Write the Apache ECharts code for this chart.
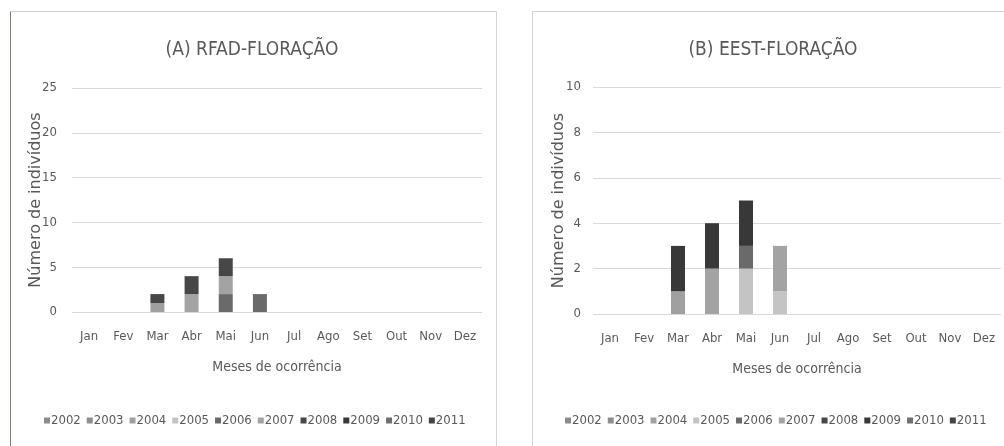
<!DOCTYPE html>
<html>
<head>
<meta charset="utf-8">
<script src="https://cdn.jsdelivr.net/npm/echarts@6/dist/echarts.min.js"></script>
<style>html,body{margin:0;padding:0;background:#fff}#c{width:1004px;height:446px}</style>
</head>
<body>
<div id="c"></div>
<script>
const months = ['Jan','Fev','Mar','Abr','Mai','Jun','Jul','Ago','Set','Out','Nov','Dez'];
const years = ['2002','2003','2004','2005','2006','2007','2008','2009','2010','2011'];
const yearColors = ['#8c8c8c','#8e8e8e','#a0a0a0','#c4c4c4','#6a6a6a','#a3a3a3','#474747','#383838','#6f6f6f','#444444'];

const titleA = '(A) RFAD-FLORAÇÃO';
const titleB = '(B) EEST-FLORAÇÃO';
const xName = 'Meses de ocorrência';
const yName = 'Número de indivíduos';
const ticksA = [0, 25, 5];
const ticksB = [0, 10, 2];

// Panel A values per year (Jan..Dez)
const a2002 = [0,0,0,0,0,0,0,0,0,0,0,0];
const a2003 = [0,0,0,0,0,0,0,0,0,0,0,0];
const a2004 = [0,0,1,0,0,0,0,0,0,0,0,0];
const a2005 = [0,0,0,0,0,0,0,0,0,0,0,0];
const a2006 = [0,0,0,0,2,2,0,0,0,0,0,0];
const a2007 = [0,0,0,2,2,0,0,0,0,0,0,0];
const a2008 = [0,0,1,2,2,0,0,0,0,0,0,0];
const a2009 = [0,0,0,0,0,0,0,0,0,0,0,0];
const a2010 = [0,0,0,0,0,0,0,0,0,0,0,0];
const a2011 = [0,0,0,0,0,0,0,0,0,0,0,0];

// Panel B values per year (Jan..Dez)
const b2002 = [0,0,0,0,0,0,0,0,0,0,0,0];
const b2003 = [0,0,0,0,0,0,0,0,0,0,0,0];
const b2004 = [0,0,1,0,0,0,0,0,0,0,0,0];
const b2005 = [0,0,0,0,2,1,0,0,0,0,0,0];
const b2006 = [0,0,0,0,1,0,0,0,0,0,0,0];
const b2007 = [0,0,0,2,0,2,0,0,0,0,0,0];
const b2008 = [0,0,0,0,0,0,0,0,0,0,0,0];
const b2009 = [0,0,2,2,2,0,0,0,0,0,0,0];
const b2010 = [0,0,0,0,0,0,0,0,0,0,0,0];
const b2011 = [0,0,0,0,0,0,0,0,0,0,0,0];

const dataA = [a2002,a2003,a2004,a2005,a2006,a2007,a2008,a2009,a2010,a2011];
const dataB = [b2002,b2003,b2004,b2005,b2006,b2007,b2008,b2009,b2010,b2011];

const narrow = '"DejaVu Sans Condensed", "DejaVu Sans", sans-serif';
const txt = '#595959';

function xAxis(gi){
  return {
    type:'category', gridIndex:gi, data:months,
    axisLine:{show:false}, axisTick:{show:false},
    axisLabel:{color:txt, fontFamily:narrow, fontSize:13, margin:18},
    name:xName, nameLocation:'middle', nameGap:48, nameMoveOverlap:false,
    nameTextStyle:{color:txt, fontFamily:narrow, fontSize:14}
  };
}
function yAxis(gi, t, gap, margin){
  return {
    type:'value', gridIndex:gi, min:t[0], max:t[1], interval:t[2],
    axisLine:{show:false}, axisTick:{show:false},
    splitLine:{lineStyle:{color:'#d9d9d9', width:1}},
    axisLabel:{color:txt, fontFamily:narrow, fontSize:13, margin:margin},
    name:yName, nameLocation:'middle', nameGap:gap, nameMoveOverlap:false,
    nameTextStyle:{color:txt, fontFamily:'"DejaVu Sans", sans-serif', fontSize:16}
  };
}

const series = [];
years.forEach((y,i)=>{
  series.push({name:y, type:'bar', stack:'a', xAxisIndex:0, yAxisIndex:0, barWidth:14,
    itemStyle:{color:yearColors[i]}, data:dataA[i]});
  series.push({name:y, type:'bar', stack:'b', xAxisIndex:1, yAxisIndex:1, barWidth:14,
    itemStyle:{color:yearColors[i]}, data:dataB[i]});
});

function legend(left){
  return {
    data:years, left:left, top:414, icon:'rect', itemWidth:6, itemHeight:6, itemGap:6,
    padding:0,
    textStyle:{color:txt, fontFamily:narrow, fontSize:13, padding:[0,0,0,-4]},
    selectedMode:false
  };
}

const chart = echarts.init(document.getElementById('c'), null, {renderer:'canvas'});
chart.setOption({
  animation:false,
  backgroundColor:'#ffffff',
  title:[
    {text:titleA, left:247, top:36, textAlign:'center',
      textStyle:{color:txt, fontFamily:narrow, fontSize:19, fontWeight:'normal'}},
    {text:titleB, left:768, top:36, textAlign:'center',
      textStyle:{color:txt, fontFamily:narrow, fontSize:19, fontWeight:'normal'}}
  ],
  legend:[legend(44), legend(565)],
  grid:[
    {left:72, right:522, top:88, bottom:134},
    {left:593, right:3, top:87, bottom:132}
  ],
  xAxis:[xAxis(0), xAxis(1)],
  yAxis:[yAxis(0, ticksA, 28, 15), yAxis(1, ticksB, 26, 12)],
  graphic:[
    {type:'rect', shape:{x:10.5, y:11.5, width:486, height:450}, style:{fill:null, stroke:'#d4d4d4', lineWidth:1}, silent:true},
    {type:'line', shape:{x1:10.5, y1:11.5, x2:10.5, y2:446}, style:{stroke:'#8a7b6e', lineWidth:1}, silent:true},
    {type:'rect', shape:{x:532.5, y:11.5, width:500, height:450}, style:{fill:null, stroke:'#d4d4d4', lineWidth:1}, silent:true}
  ],
  series:series
});
</script>
</body>
</html>
